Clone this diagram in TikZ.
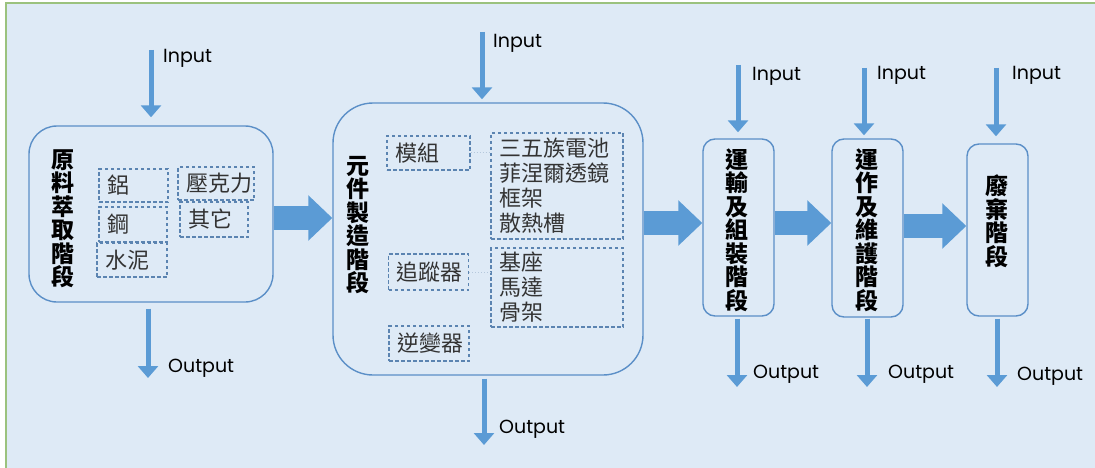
\documentclass[tikz,border=0pt]{standalone}
\usepackage{fontspec}
\setmainfont{Noto Sans CJK TC}
\newfontfamily\ioFont{Poppins}
\usetikzlibrary{arrows.meta}
\definecolor{bgBlue}{HTML}{DEEAF6}
\definecolor{frameGreen}{HTML}{9BC27E}
\definecolor{boxBlue}{HTML}{5B8FC7}
\definecolor{dashBlue}{HTML}{5B84B1}
\definecolor{arrowBlue}{HTML}{5B9BD5}
\definecolor{itemGray}{HTML}{333333}

\begin{document}
\begin{tikzpicture}
[x=1pt,y=-1pt,
  stageBox/.style={draw=boxBlue,line width=1.4pt,rounded corners=#1,inner sep=0pt},
  stageTitle/.style={align=center,inner sep=0pt,font=\fontsize{23}{23.5}\selectfont\bfseries},
  itemBox/.style={draw=dashBlue,line width=1.2pt,dash pattern=on 3.5pt off 2.5pt,
    inner xsep=8pt,inner ysep=0pt,text width=#1,align=left,text=itemGray,
    font=\fontsize{22}{25}\selectfont},
  linkDotted/.style={draw=dashBlue!45,line width=1pt,dotted},
  ioLabel/.style={anchor=west,inner sep=0pt,font=\ioFont\fontsize{19}{19}\selectfont},
  thinArrow/.style={draw=arrowBlue,line width=5pt,-{Triangle[width=20pt,length=12pt]}},
  bigArrow/.style={draw=arrowBlue,line width=24pt,-{Triangle[width=44pt,length=24pt]}}]
\useasboundingbox (0,0) rectangle (1095,468);
\fill[bgBlue] (6,3) rectangle (1095,468);
\draw[frameGreen,line width=1.5pt] (6,468) -- (6,3) -- (1095,3);

% stages
\node[stageBox=28pt,minimum width=244pt,minimum height=176pt] (stage1) at (151,214) {};
\node[stageBox=40pt,minimum width=310pt,minimum height=272pt] (stage2) at (488,239) {};
\node[stageBox=12pt,minimum width=71pt,minimum height=177pt] (stage3) at (738.5,227.5) {};
\node[stageBox=12pt,minimum width=71pt,minimum height=178pt] (stage4) at (867.5,228) {};
\node[stageBox=12pt,minimum width=61pt,minimum height=172pt] (stage5) at (997.5,230) {};

\node[stageTitle] (title1) at (63,219) {原\\料\\萃\\取\\階\\段};
\node[stageTitle] (title2) at (358,225) {元\\件\\製\\造\\階\\段};
\node[stageTitle] (title3) at (737,230) {運\\輸\\及\\組\\裝\\階\\段};
\node[stageTitle] (title4) at (867,230) {運\\作\\及\\維\\護\\階\\段};
\node[stageTitle] (title5) at (997,221) {廢\\棄\\階\\段};

% materials
\node[itemBox=53pt,minimum height=33pt] (aluminium) at (133.5,185.5) {鋁};
\node[itemBox=52pt,minimum height=35pt] (steel) at (133,224.5) {鋼};
\node[itemBox=54pt,minimum height=34pt] (cement) at (132,260) {水泥};
\node[itemBox=60pt,minimum height=33pt] (acrylic) at (216,183.5) {壓克力};
\node[itemBox=52pt,minimum height=35pt] (others) at (214,219.5) {其它};

% components
\node[itemBox=67pt,minimum height=34pt] (module) at (428.5,153) {模組};
\node[itemBox=116pt,minimum height=106pt] (moduleParts) at (557,186) {三五族電池\\菲涅爾透鏡\\框架\\散熱槽};
\node[itemBox=64pt,minimum height=36pt] (tracker) at (428.5,272) {追蹤器};
\node[itemBox=116pt,minimum height=79pt] (trackerParts) at (557,287.5) {基座\\馬達\\骨架};
\node[itemBox=64pt,minimum height=35pt] (inverter) at (429,343.5) {逆變器};
\draw[linkDotted] (module.east) -- (moduleParts.west |- module.east);
\draw[linkDotted] (tracker.east) -- (trackerParts.west |- tracker.east);

% flow between stages
\draw[bigArrow] (stage1.east |- 0,218) -- (stage2.west |- 0,218);
\draw[bigArrow] (stage2.east |- 0,223) -- (stage3.west |- 0,223);
\draw[bigArrow] (stage3.east |- 0,223) -- (stage4.west |- 0,223);
\draw[bigArrow] (stage4.east |- 0,226) -- (stage5.west |- 0,226);

% input / output
\coordinate (in1) at (151,50);   \coordinate (out1) at (148,378);
\coordinate (in2) at (482,32);   \coordinate (out2) at (484,445);
\coordinate (in3) at (738,65);   \coordinate (out3) at (737,387);
\coordinate (in4) at (864,68);   \coordinate (out4) at (867,387);
\coordinate (in5) at (996,68);   \coordinate (out5) at (997,387);
\foreach \stage/\gapIn/\gapOut in {1/8pt/6pt, 2/3pt/3pt, 3/6pt/2pt, 4/3pt/1pt, 5/7pt/2pt}
{
  \draw[thinArrow,shorten >=\gapIn] (in\stage) -- (in\stage |- stage\stage.north);
  \draw[thinArrow,shorten <=\gapOut] (out\stage |- stage\stage.south) -- (out\stage);
}
\foreach \stage/\inX/\inY/\outX/\outY in {1/163/58/168/368, 2/493/43/499/429,
  3/752/76/753/374, 4/877/75/888/374, 5/1012/75/1017/376}
{
  \node[ioLabel] (inLabel\stage) at (\inX,\inY) {Input};
  \node[ioLabel] (outLabel\stage) at (\outX,\outY) {Output};
}
\end{tikzpicture}
\end{document}
